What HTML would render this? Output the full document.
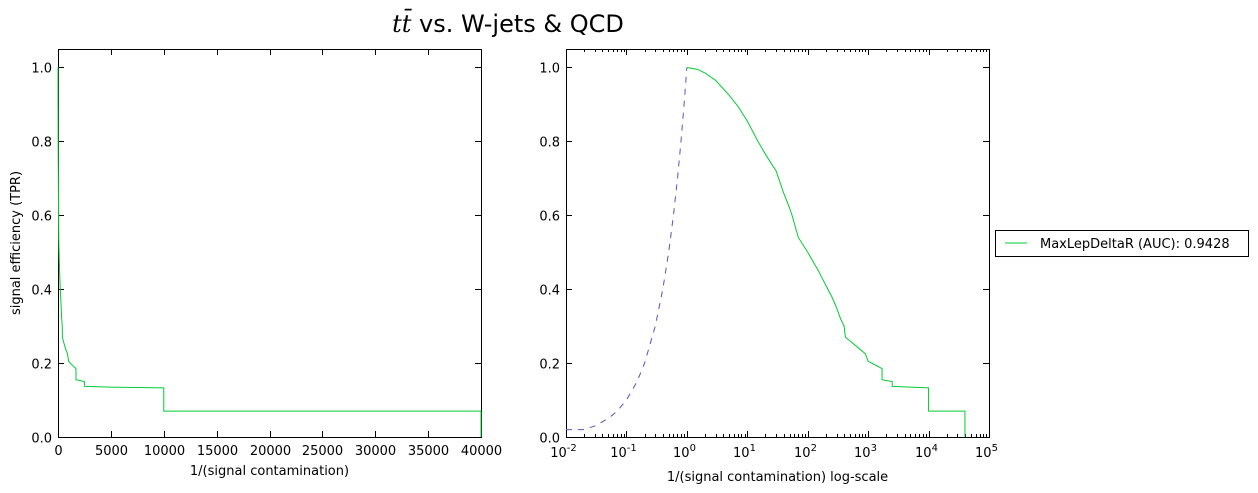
<!DOCTYPE html>
<html><head><meta charset="utf-8"><style>
html,body{margin:0;padding:0;background:#fff;}
svg{display:block;font-family:"DejaVu Sans","Liberation Sans",sans-serif;}
</style></head><body>
<svg id="chart" width="1258" height="493" viewBox="0 0 1258 493" xmlns="http://www.w3.org/2000/svg">
<text x="508" y="32" font-size="24" text-anchor="middle"><tspan font-family="DejaVu Serif,serif" font-style="italic">tt̄</tspan> vs. W-jets &amp; QCD</text>
<g id="left"></g>
<g id="right"></g>
<g>
<rect x="995.5" y="230.5" width="253" height="26" fill="#fff" stroke="#000" stroke-width="1"/>
<line x1="1005" y1="243" x2="1027" y2="243" stroke="#00cc33" stroke-width="1"/>
<text x="1040" y="248" font-size="13">MaxLepDeltaR (AUC): 0.9428</text>
</g>
</svg>
<script>
// ROC data: 1/(signal contamination) vs signal efficiency
const invFpr = [1,1.5,2,3,5,7,10,15,20,25,30,40,50,55,70,100,150,200,250,300,350,400,420,500,700,900,1000,1500,1700,1700,2500,2500,5000,10000,10000,40000,40000];
const tpr    = [1,0.995,0.985,0.965,0.925,0.895,0.855,0.8,0.765,0.74,0.72,0.66,0.62,0.6,0.54,0.5,0.45,0.41,0.38,0.35,0.32,0.3,0.27,0.26,0.24,0.225,0.205,0.19,0.185,0.155,0.15,0.137,0.135,0.133,0.07,0.07,0];
const randX = [0.01,0.02,0.03,0.05,0.07,0.1,0.15,0.2,0.3,0.4,0.5,0.6,0.7,0.8,0.9,1];
const randY = [0.02,0.02,0.03,0.05,0.07,0.1,0.15,0.2,0.3,0.4,0.5,0.6,0.7,0.8,0.9,1];
const yTicks = [0,0.2,0.4,0.6,0.8,1.0];
const xTicksLin = [0,5000,10000,15000,20000,25000,30000,35000,40000];
const xDecades = [-2,-1,0,1,2,3,4,5];

const NS="http://www.w3.org/2000/svg";
function mk(parent,tag,attrs){const e=document.createElementNS(NS,tag);for(const k in attrs)e.setAttribute(k,attrs[k]);parent.appendChild(e);return e;}
const yTop=49,yBot=437;
const yS=v=>yBot-(v/1.05)*(yBot-yTop);

function frame(g,x0,x1){
  const r=mk(g,'rect',{x:x0+0.5,y:yTop+0.5,width:x1-x0,height:yBot-yTop,fill:'none',stroke:'#000','stroke-width':1});
  
  
  yTicks.forEach(v=>{
    const y=Math.round(yS(v))+0.5;
    mk(g,'line',{x1:x0,y1:y,x2:x0+6,y2:y,stroke:'#000'});
    mk(g,'line',{x1:x1,y1:y,x2:x1-6,y2:y,stroke:'#000'});
    const t=mk(g,'text',{x:x0-6,y:y+5,'font-size':13,'text-anchor':'end'});
    t.textContent=v.toFixed(1);
    
    
  });
}

// left linear plot
(function(){
  const g=document.getElementById('left'),x0=58,x1=481;
  const xS=v=>x0+v/40000*(x1-x0);
  frame(g,x0,x1);
  xTicksLin.forEach(v=>{
    const x=Math.round(xS(v))+0.5;
    mk(g,'line',{x1:x,y1:yBot,x2:x,y2:yBot-6,stroke:'#000'});
    mk(g,'line',{x1:x,y1:yTop,x2:x,y2:yTop+6,stroke:'#000'});
    const t=mk(g,'text',{x:x,y:yBot+18,'font-size':13,'text-anchor':'middle'});
    t.textContent=v;
    
    
  });
  let d='M'+xS(0)+','+yS(1)+' L'+xS(1)+','+yS(tpr[0]);
  invFpr.forEach((v,i)=>{d+=' L'+xS(v).toFixed(2)+','+yS(tpr[i]).toFixed(2);});
  const p=mk(g,'path',{d:d,fill:'none',stroke:'#00cc33','stroke-width':1});
  
  
  const xl=mk(g,'text',{x:(x0+x1)/2,y:475,'font-size':13,'text-anchor':'middle'});
  xl.textContent='1/(signal contamination)';
  
  
  const yl=mk(g,'text',{x:20,y:243,'font-size':13,'text-anchor':'middle',transform:'rotate(-90 20 243)'});
  yl.textContent='signal efficiency (TPR)';
  
  
})();

// right log plot
(function(){
  const g=document.getElementById('right'),x0=566,x1=989;
  const xS=v=>x0+(Math.log10(v)+2)/7*(x1-x0);
  frame(g,x0,x1);
  xDecades.forEach(e=>{
    const x=Math.round(xS(Math.pow(10,e)))+0.5;
    mk(g,'line',{x1:x,y1:yBot,x2:x,y2:yBot-6,stroke:'#000'});
    mk(g,'line',{x1:x,y1:yTop,x2:x,y2:yTop+6,stroke:'#000'});
    if(e<5){for(let m=2;m<10;m++){const xm=Math.round(xS(m*Math.pow(10,e)))+0.5;
      mk(g,'line',{x1:xm,y1:yBot,x2:xm,y2:yBot-3,stroke:'#000'});
      mk(g,'line',{x1:xm,y1:yTop,x2:xm,y2:yTop+3,stroke:'#000'});}}
    const t=mk(g,'text',{x:x-3,y:yBot+20,'font-size':13,'text-anchor':'middle'});
    t.innerHTML='10<tspan dy="-6" font-size="10">'+e+'</tspan>';
    
    
  });
  let dr='';
  randX.forEach((v,i)=>{dr+=(i?' L':'M')+xS(v).toFixed(2)+','+yS(randY[i]).toFixed(2);});
  const pr=mk(g,'path',{d:dr,fill:'none',stroke:'#5555bb','stroke-width':1,'stroke-dasharray':'6,6'});
  
  
  let d='';
  invFpr.forEach((v,i)=>{d+=(i?' L':'M')+xS(v).toFixed(2)+','+yS(tpr[i]).toFixed(2);});
  const p=mk(g,'path',{d:d,fill:'none',stroke:'#00cc33','stroke-width':1});
  
  
  const xl=mk(g,'text',{x:(x0+x1)/2,y:481,'font-size':13,'text-anchor':'middle'});
  xl.textContent='1/(signal contamination) log-scale';
  
  
})();
</script>
</body></html>
